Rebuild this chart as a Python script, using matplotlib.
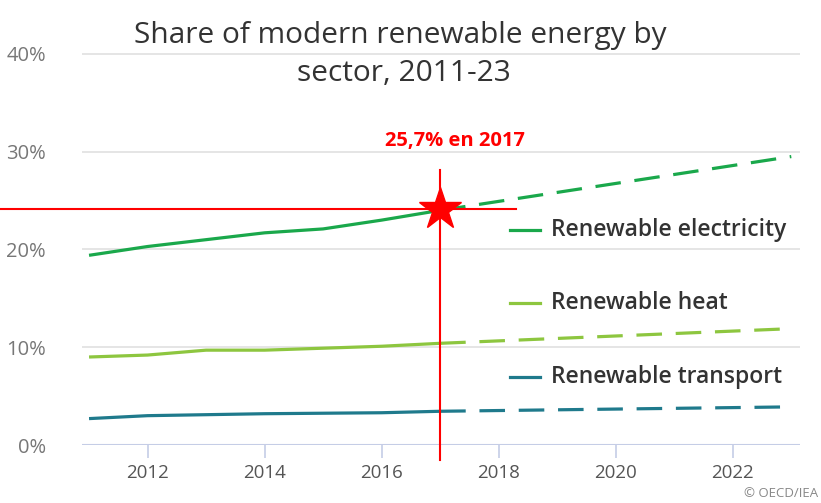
import matplotlib
matplotlib.use("Agg")
import matplotlib.pyplot as plt

plt.rcParams["font.family"] = ["Open Sans", "DejaVu Sans"]

years_hist = [2011, 2012, 2013, 2014, 2015, 2016, 2017]
years_proj = [2017, 2023]

electricity_hist = [19.4, 20.3, 21.0, 21.7, 22.1, 23.0, 24.0]
electricity_proj = [24.0, 29.5]
heat_hist = [9.0, 9.2, 9.7, 9.7, 9.9, 10.1, 10.4]
heat_proj = [10.4, 11.9]
transport_hist = [2.7, 3.0, 3.1, 3.2, 3.25, 3.3, 3.45]
transport_proj = [3.45, 3.9]

series = [
    ("Renewable electricity", electricity_hist, electricity_proj, "#1aa84b", 22.0),
    ("Renewable heat", heat_hist, heat_proj, "#8dc63f", 14.5),
    ("Renewable transport", transport_hist, transport_proj, "#1f7a8c", 7.0),
]

x_ticks = [2012, 2014, 2016, 2018, 2020, 2022]
y_ticks = [0, 10, 20, 30, 40]

highlight_year = 2017
highlight_value = 24.15
highlight_label = "25,7% en 2017"

fig = plt.figure(figsize=(8.21, 5.03), dpi=100)
ax = fig.add_axes([0.0999, 0.1153, 0.8746, 0.797])
ax.set_xlim(2010.88, 2023.15)
ax.set_ylim(0, 41)

for y in y_ticks[1:]:
    ax.axhline(y, color="#e3e3e3", lw=1.3, zorder=0)
ax.axhline(0, color="#c5cde6", lw=1.5, zorder=0)

for name, hist, proj, color, ly in series:
    ax.plot(years_hist, hist, color=color, lw=2.3, solid_capstyle="butt", zorder=3)
    ax.plot(years_proj, proj, color=color, lw=2.3, dashes=(8, 4.3), zorder=3)
    ax.plot([2018.2, 2018.7], [ly, ly], color=color, lw=2.3, zorder=3)
    ax.text(2018.9, ly, name, color="#333333", fontsize=16.5, fontweight="semibold",
            va="center", ha="left")

# red markers
ax.plot([2009.48, 2018.3], [highlight_value, highlight_value], color="red", lw=1.5,
        clip_on=False, zorder=4)
ax.plot([highlight_year, highlight_year], [-1.5, 28.1], color="red", lw=1.5,
        clip_on=False, zorder=4)
ax.plot([highlight_year], [highlight_value], marker="*", color="red", ms=32, zorder=5,
        clip_on=False)
ax.text(2017.25, 31.1, highlight_label, color="red", fontsize=14.5, fontweight="bold",
        ha="center", va="center")

for s in ax.spines.values():
    s.set_visible(False)
ax.set_xticks(x_ticks)
ax.set_xticklabels([str(t) for t in x_ticks])
ax.set_yticks(y_ticks)
ax.set_yticklabels([f"{t}%" for t in y_ticks])
ax.tick_params(axis="x", length=9, width=1.2, color="#c5cde6", pad=5,
               labelsize=13.5, labelcolor="#555555")
ax.tick_params(axis="y", length=0, pad=26, labelsize=14.5, labelcolor="#777777")

fig.text(0.487, 0.93, "Share of modern renewable energy by", fontsize=21.5,
         color="#333333", ha="center", va="center")
fig.text(0.492, 0.853, "sector, 2011-23", fontsize=21.5, color="#333333",
         ha="center", va="center")
fig.text(0.997, 0.005, "© OECD/IEA", fontsize=9.5, color="#888888", ha="right", va="bottom")

fig.savefig("out.png", dpi=100, facecolor="white")
